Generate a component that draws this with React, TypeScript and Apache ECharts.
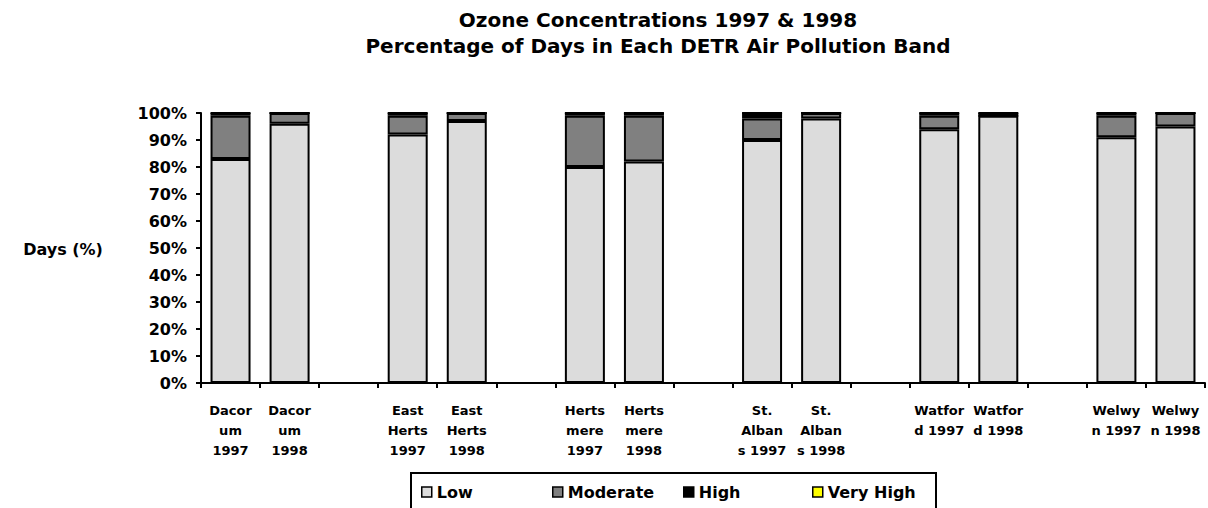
import React, { useEffect, useRef } from "react";
import * as echarts from "echarts";

const categories = [
  "Dacor\num\n1997", "Dacor\num\n1998", " ",
  "East\nHerts\n1997", "East\nHerts\n1998", "  ",
  "Herts\nmere\n1997", "Herts\nmere\n1998", "   ",
  "St.\nAlban\ns 1997", "St.\nAlban\ns 1998", "    ",
  "Watfor\nd 1997", "Watfor\nd 1998", "     ",
  "Welwy\nn 1997", "Welwy\nn 1998",
];
const low = [83, 96, null, 92, 97, null, 80, 82, null, 90, 98, null, 94, 99, null, 91, 95];
const moderate = [16, 4, null, 7, 3, null, 19, 17, null, 8, 2, null, 5, 0, null, 8, 5];
const high = [1, 0, null, 1, 0, null, 1, 1, null, 2, 0, null, 1, 1, null, 1, 0];
const veryHigh = [0, 0, null, 0, 0, null, 0, 0, null, 0, 0, null, 0, 0, null, 0, 0];
const yTicks = [0, 10, 20, 30, 40, 50, 60, 70, 80, 90, 100];
const seriesNames = ["Low", "Moderate", "High", "Very High"];
const seriesColors = ["#dcdcdc", "#808080", "#000000", "#ffff00"];

const FONT = "'DejaVu Sans', 'Liberation Sans', Arial, sans-serif";
const legendLefts = [421, 552, 683, 812];

export default function App() {
  const ref = useRef<HTMLDivElement>(null);
  useEffect(() => {
    if (!ref.current) return;
    const chart = echarts.init(ref.current, undefined, { renderer: "svg" });
    const datasets = [low, moderate, high, veryHigh];
    chart.setOption({
      animation: false,
      backgroundColor: "#ffffff",
      textStyle: { fontFamily: FONT },
      graphic: [
        {
          type: "text",
          x: 658,
          y: 7,
          style: {
            text: "Ozone Concentrations 1997 & 1998\nPercentage of Days in Each DETR Air Pollution Band",
            align: "center",
            verticalAlign: "top",
            font: `bold 20px ${FONT}`,
            lineHeight: 26,
            fill: "#000",
          },
        },
        {
          type: "text",
          x: 63,
          y: 249,
          style: {
            text: "Days (%)",
            align: "center",
            verticalAlign: "middle",
            font: `bold 16px ${FONT}`,
            fill: "#000",
          },
        },
        {
          type: "rect",
          shape: { x: 411, y: 473, width: 525, height: 60 },
          style: { fill: "none", stroke: "#000", lineWidth: 2 },
        },
      ],
      legend: seriesNames.map((name, i) => ({
        left: legendLefts[i],
        top: 484,
        padding: 0,
        itemWidth: 10,
        itemHeight: 10,
        selectedMode: false,
        icon: "rect",
        itemStyle: { borderColor: "#000", borderWidth: 1.5 },
        textStyle: { fontFamily: FONT, fontWeight: "bold", fontSize: 16, color: "#000" },
        data: [name],
      })),
      grid: { left: 201, right: 3, top: 113, bottom: 125, containLabel: false },
      xAxis: {
        type: "category",
        data: categories,
        axisLine: { lineStyle: { color: "#000", width: 2 } },
        axisTick: { show: true, length: 5, lineStyle: { color: "#000", width: 2 } },
        axisLabel: {
          interval: 0,
          margin: 17,
          fontFamily: FONT,
          fontWeight: "bold",
          fontSize: 13,
          lineHeight: 20,
          color: "#000",
        },
      },
      yAxis: {
        type: "value",
        min: yTicks[0],
        max: yTicks[yTicks.length - 1],
        interval: 10,
        splitLine: { show: false },
        axisLine: { show: true, lineStyle: { color: "#000", width: 2 } },
        axisTick: { show: true, length: 5, lineStyle: { color: "#000", width: 2 } },
        axisLabel: {
          formatter: "{value}%",
          margin: 14,
          fontFamily: FONT,
          fontWeight: "bold",
          fontSize: 16,
          color: "#000",
        },
      },
      series: seriesNames.map((name, i) => ({
        name,
        type: "bar",
        stack: "total",
        barWidth: 40,
        data: datasets[i],
        itemStyle: { color: seriesColors[i], borderColor: "#000", borderWidth: 2 },
      })),
    });
    return () => chart.dispose();
  }, []);
  return (
    <div
      ref={ref}
      style={{ position: "fixed", left: 0, top: 0, width: 1208, height: 508, background: "#fff" }}
    />
  );
}
